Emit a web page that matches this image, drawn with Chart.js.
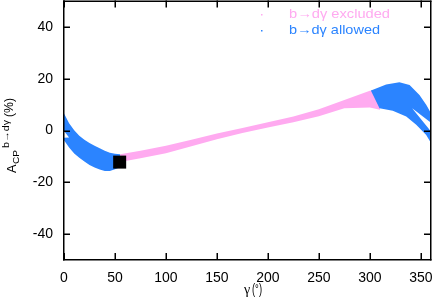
<!DOCTYPE html>
<html>
<head>
<meta charset="utf-8">
<script src="https://cdn.jsdelivr.net/npm/chart.js@4"></script>
<style>
  body { margin: 0; background: #fff; }
</style>
</head>
<body>
<canvas id="myChart" width="436" height="307"></canvas>
<script>

// tick values
const xTicks = [0, 50, 100, 150, 200, 250, 300, 350];
const yTicks = [-40, -20, 0, 20, 40];

// b->d gamma allowed, left piece (gamma 0..55)
const blueLeftX = [0, 5, 10, 15, 20, 25, 30, 35, 40, 45, 50, 55];
const blueLeftTop = [6.6, 2.8, 0.1, -2.0, -3.6, -4.8, -5.9, -6.9, -7.8, -8.6, -9.0, -9.2];
const blueLeftBottom = [-3.8, -6.6, -8.9, -10.5, -12.0, -13.3, -14.3, -15.1, -15.6, -15.6, -15.0, -14.2];

// b->d gamma excluded (gamma 55..310)
const pinkX = [55, 75, 100, 125, 150, 175, 200, 225, 250, 275, 300, 310];
const pinkTop = [-9.2, -7.8, -5.9, -3.6, -1.2, 1.0, 3.2, 5.4, 8.2, 11.8, 15.3, 16.0];
const pinkBottom = [-12.2, -10.7, -8.8, -6.1, -3.4, -1.0, 1.2, 3.2, 5.5, 8.6, 8.9, 8.0];

// b->d gamma allowed, right piece (gamma 301..360)
const blueRightTopX = [301, 303, 316, 329, 339, 348.7, 355.3, 360];
const blueRightTopY = [15.4, 15.7, 17.8, 18.6, 17.6, 13.7, 9.9, 6.7];
const blueRightBottomX = [309.5, 322.5, 335.7, 345.5, 355.3, 360];
const blueRightBottomY = [8.6, 7.6, 5.4, 2.2, -1.7, -4.8];

// empty gaps inside the allowed band
const gapRightX = [341.5, 360, 360];
const gapRightY = [8.6, 3.0, -0.4];
const gapLeftX = [0, 5, 0];
const gapLeftY = [-0.2, -2.7, -2.8];

// reference point
const refX = [54.6];
const refY = [-12.2];

const PINK = '#ffaaf0';
const BLUE = '#2b84ff';

function pts(xs, ys) {
    return xs.map((x, i) => ({x: x, y: ys[i]}));
}

// closed outline: top edge forward, bottom edge backwards
function band(xTop, top, xBot, bot) {
    return pts(xTop, top).concat(pts(xBot, bot).reverse());
}

function shape(data, color, order) {
    return {
        data: data,
        fill: 'shape',
        backgroundColor: color,
        borderColor: 'rgba(0,0,0,0)',
        borderWidth: 0,
        pointRadius: 0,
        tension: 0,
        order: order
    };
}

// text squeezed/stretched to a given width (the original font is wider)
function fitText(ctx, txt, x, y, width) {
    const w = ctx.measureText(txt).width;
    ctx.save();
    ctx.translate(x, y);
    ctx.scale(width / w, 1);
    ctx.fillText(txt, 0, 0);
    ctx.restore();
}

const frame = {
    id: 'frame',
    afterDraw(chart) {
        const ctx = chart.ctx;
        const a = chart.chartArea;
        const sx = chart.scales.x;
        const sy = chart.scales.y;
        const L = Math.round(a.left) - 1;
        const R = Math.round(a.right) - 1;
        const T = Math.round(a.top) - 0.5;
        const B = Math.round(a.bottom) - 1;
        const lw = 1.5;
        ctx.save();
        ctx.fillStyle = '#000000';
        // box
        ctx.fillRect(L, T, R - L + lw, lw);
        ctx.fillRect(L, B, R - L + lw, lw);
        ctx.fillRect(L, T, lw, B - T + lw);
        ctx.fillRect(R, T, lw, B - T + lw);
        // inward ticks on all four sides
        xTicks.forEach(v => {
            const px = Math.round(sx.getPixelForValue(v)) - 0.5;
            ctx.fillRect(px, B - 6, lw, 6);
            ctx.fillRect(px, T, lw, 7);
        });
        yTicks.forEach(v => {
            const py = Math.round(sy.getPixelForValue(v)) - 0.5;
            ctx.fillRect(L, py, 7, lw);
            ctx.fillRect(R - 6, py, 7, lw);
        });

        // x title
        ctx.textBaseline = 'alphabetic';
        ctx.textAlign = 'left';
        ctx.font = '14px "Liberation Serif"';
        ctx.fillText('γ', 244, 294);
        ctx.font = '14px "Liberation Sans"';
        fitText(ctx, '(°)', 252, 294, 10);

        // y title, rotated
        ctx.save();
        ctx.translate(16, 173);
        ctx.rotate(-Math.PI / 2);
        ctx.font = '12px "Liberation Sans"';
        fitText(ctx, 'A', 0, 0, 8.5);
        ctx.font = '9px "Liberation Sans"';
        fitText(ctx, 'CP', 9, 2.5, 14);
        fitText(ctx, 'b→dγ', 25, -7.5, 28);
        ctx.font = '12px "Liberation Sans"';
        fitText(ctx, '(%)', 56, -3.5, 19);
        ctx.restore();

        // legend
        ctx.font = '13px "Liberation Sans"';
        ctx.fillStyle = PINK;
        fitText(ctx, 'b→dγ excluded', 289, 18, 101);
        ctx.fillRect(261, 14, 1.5, 1.5);
        ctx.fillStyle = BLUE;
        fitText(ctx, 'b→dγ allowed', 289, 34, 91);
        ctx.fillRect(261, 30, 1.5, 1.5);
        ctx.restore();
    }
};

const ctx = document.querySelector('#myChart');

new Chart(ctx, {
    type: 'line',
    data: {
        datasets: [
            shape(band(pinkX, pinkTop, pinkX, pinkBottom), PINK, 5),
            shape(band(blueLeftX, blueLeftTop, blueLeftX, blueLeftBottom), BLUE, 4),
            shape(band(blueRightTopX, blueRightTopY, blueRightBottomX, blueRightBottomY), BLUE, 4),
            shape(pts(gapRightX, gapRightY), '#ffffff', 3),
            shape(pts(gapLeftX, gapLeftY), '#ffffff', 3),
            {
                data: pts(refX, refY),
                showLine: false,
                pointStyle: 'rect',
                pointRadius: 9.2,
                pointBackgroundColor: '#000',
                pointBorderWidth: 0,
                pointBorderColor: '#000',
                order: 1
            }
        ]
    },
    options: {
        responsive: false,
        animation: false,
        events: [],
        layout: { autoPadding: false, padding: { top: 1, right: 5, left: 0, bottom: 0 } },
        plugins: {
            legend: { display: false },
            tooltip: { enabled: false }
        },
        scales: {
            x: {
                type: 'linear',
                min: 0,
                max: 360,
                afterBuildTicks: (s) => { s.ticks = xTicks.map(v => ({value: v})); },
                afterFit: (s) => { s.height = 47; s.paddingLeft = 0; s.paddingRight = 0; },
                grid: { display: false, drawTicks: false },
                border: { display: false },
                ticks: { padding: 10, color: '#000', maxRotation: 0, font: { family: 'Liberation Sans', size: 14 } }
            },
            y: {
                type: 'linear',
                min: -50,
                max: 50,
                afterBuildTicks: (s) => { s.ticks = yTicks.map(v => ({value: v})); },
                afterFit: (s) => { s.width = 64; s.paddingTop = 0; s.paddingBottom = 0; },
                grid: { display: false, drawTicks: false },
                border: { display: false },
                ticks: { padding: 11, color: '#000', font: { family: 'Liberation Sans', size: 14 } }
            }
        }
    },
    plugins: [frame]
});
</script>
</body>
</html>
